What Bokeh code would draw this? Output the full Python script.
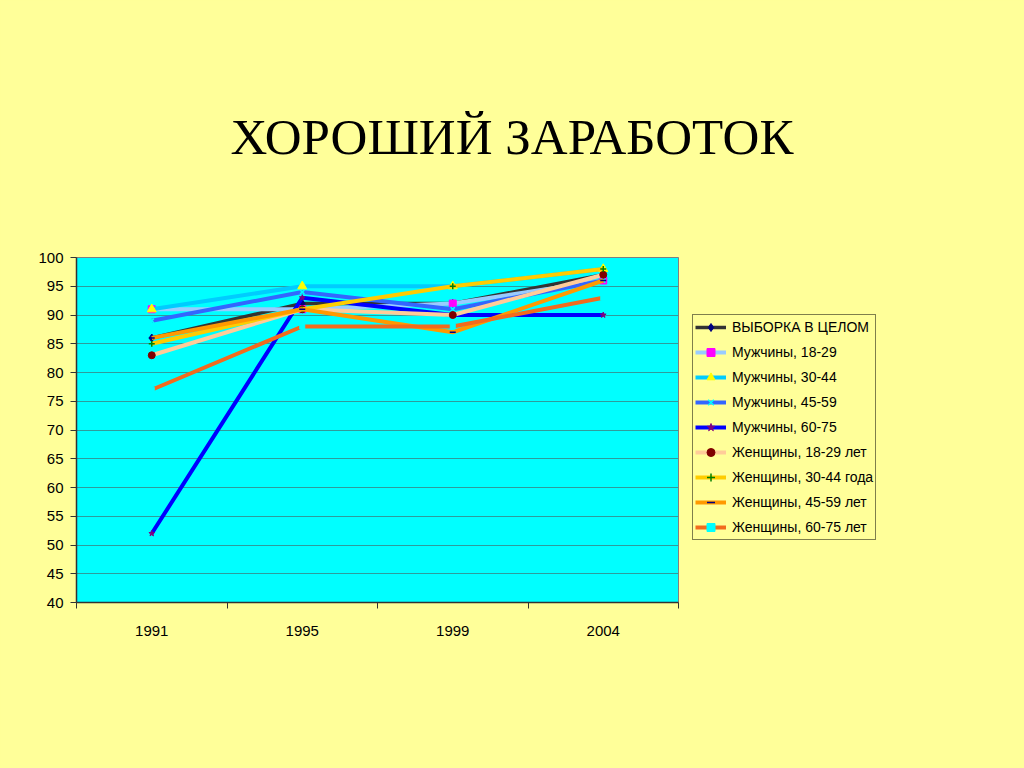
from bokeh.plotting import figure
from bokeh.models import (Legend, LegendItem, FixedTicker, Title, Range1d)
from bokeh.embed import file_html
from bokeh.resources import INLINE

title_text = "ХОРОШИЙ ЗАРАБОТОК"
years = ["1991", "1995", "1999", "2004"]

series_names = [
    "ВЫБОРКА В ЦЕЛОМ",
    "Мужчины, 18-29",
    "Мужчины, 30-44",
    "Мужчины, 45-59",
    "Мужчины, 60-75",
    "Женщины, 18-29 лет",
    "Женщины, 30-44 года",
    "Женщины, 45-59 лет",
    "Женщины, 60-75 лет",
]

total = [86, 92, 92, 97]
men_18_29 = [91, 91, 92, 96]
men_30_44 = [91, 95, 95, 98]
men_45_59 = [89, 94, 91, 96]
men_60_75 = [52, 93, 90, 90]
women_18_29 = [83, 91, 90, 97]
women_30_44 = [85, 91, 95, 98]
women_45_59 = [86, 91, 87, 96]
women_60_75 = [77, 88, 88, 93]

series_values = [total, men_18_29, men_30_44, men_45_59, men_60_75,
                 women_18_29, women_30_44, women_45_59, women_60_75]

line_colors = ["#333333", "#99CCFF", "#00CCFF", "#3366FF", "#0000FF",
               "#FFCC99", "#FFCC00", "#FF9900", "#F26B1D"]
line_widths = [3.5, 4, 4, 4, 4, 4, 4, 4, 4]
marker_types = ["diamond", "square", "triangle", "x", "star",
                "circle", "cross", "dash", "square"]
marker_colors = ["#000080", "#FF00FF", "#FFFF00", "#00FFFF", "#800080",
                 "#800000", "#008000", "#000080", "#00FFFF"]
marker_sizes = [8, 7, 9, 6, 6, 7, 6, 6, 5]

y_ticks = list(range(40, 101, 5))

BG = "#FFFF99"

p = figure(frame_width=602, frame_height=345, output_backend="svg",
           toolbar_location=None,
           x_range=Range1d(0, len(years)), y_range=Range1d(40, 100),
           min_border_left=76, min_border_right=346,
           min_border_top=257, min_border_bottom=166)
p.border_fill_color = BG
p.background_fill_color = "#00FFFF"
p.outline_line_color = "#808080"
p.outline_line_width = 1

# title
t = Title(text=title_text, align="left", offset=154, standoff=185,
          text_font="Liberation Serif", text_font_style="normal",
          text_font_size="51px", text_color="#000000")
p.add_layout(t, "above")

x_centers = [i + 0.5 for i in range(len(years))]

# x axis
p.xaxis.ticker = FixedTicker(ticks=x_centers,
                             minor_ticks=list(range(len(years) + 1)))
p.xaxis.major_label_overrides = {x: y for x, y in zip(x_centers, years)}
p.xaxis.major_tick_line_color = None
p.xaxis.minor_tick_out = 6
p.xaxis.minor_tick_in = 0
p.xaxis.minor_tick_line_color = "#333333"
p.xaxis.axis_line_color = "#333333"
p.xaxis.axis_line_width = 1.5
p.xaxis.major_label_text_font = "Liberation Sans"
p.xaxis.major_label_text_font_size = "15px"
p.xaxis.major_label_text_color = "#000000"
p.xaxis.major_label_standoff = 17

# y axis
p.yaxis.ticker = FixedTicker(ticks=y_ticks)
p.yaxis.major_tick_out = 6
p.yaxis.major_tick_in = 0
p.yaxis.minor_tick_line_color = None
p.yaxis.major_tick_line_color = "#333333"
p.yaxis.axis_line_color = "#333333"
p.yaxis.axis_line_width = 1.5
p.yaxis.major_label_text_font = "Liberation Sans"
p.yaxis.major_label_text_font_size = "15px"
p.yaxis.major_label_text_color = "#000000"
p.yaxis.major_label_standoff = 7

p.xgrid.grid_line_color = None
p.ygrid.grid_line_color = "#2E9C9C"
p.ygrid.grid_line_width = 1

items = []
for name, vals, lc, lw, mt, mc, ms in zip(series_names, series_values, line_colors,
                                          line_widths, marker_types, marker_colors,
                                          marker_sizes):
    r1 = p.line(x_centers, vals, line_color=lc, line_width=lw)
    r2 = p.scatter(x_centers, vals, marker=mt, size=ms, fill_color=mc,
                   line_color=mc, line_width=1.5 if mt in ("x", "cross", "dash") else 1)
    items.append(LegendItem(label=name, renderers=[r1, r2]))

legend = Legend(items=items, location=(14, 62))
legend.background_fill_color = BG
legend.background_fill_alpha = 1
legend.border_line_color = "#000000"
legend.border_line_width = 1
legend.label_text_font = "Liberation Sans"
legend.label_text_font_size = "14px"
legend.label_text_color = "#000000"
legend.glyph_width = 31
legend.glyph_height = 20
legend.label_height = 20
legend.spacing = 5
legend.padding = 2
legend.margin = 0
legend.label_standoff = 6
p.add_layout(legend, "right")

html = file_html(p, INLINE)
html = html.replace("<head>", "<head><style>body{background:#FFFF99;}</style>", 1)
open("out.html", "w").write(html)
